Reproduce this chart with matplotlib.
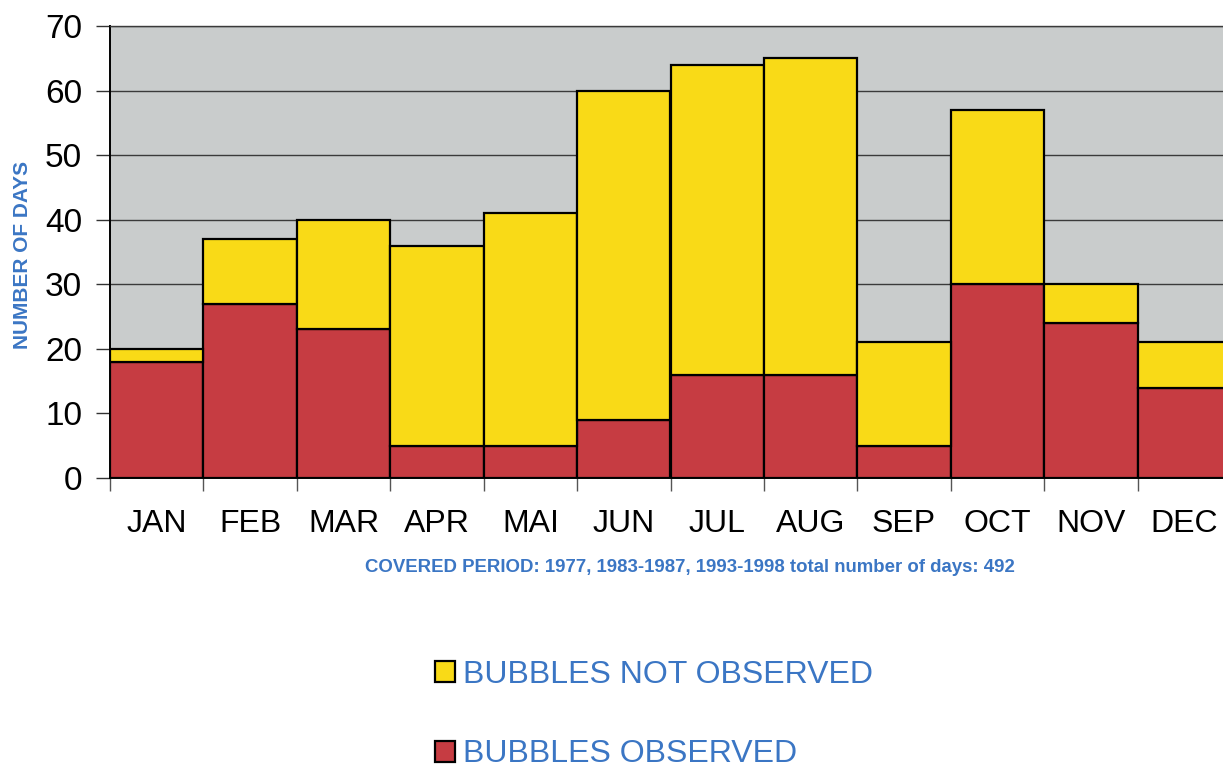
import numpy as np
import matplotlib
matplotlib.use("Agg")
import matplotlib.pyplot as plt

# monthly counts of days
months = ["JAN", "FEB", "MAR", "APR", "MAI", "JUN", "JUL", "AUG", "SEP", "OCT", "NOV", "DEC"]
observed = [18, 27, 23, 5, 5, 9, 16, 16, 5, 30, 24, 14]
totals = [20, 37, 40, 36, 41, 60, 64, 65, 21, 57, 30, 21]
not_observed = [t - o for t, o in zip(totals, observed)]
y_ticks = [0, 10, 20, 30, 40, 50, 60, 70]

plt.rcParams['font.family'] = ['Liberation Sans', 'DejaVu Sans']

RED = '#c63c42'
YELLOW = '#f9da17'
GRAY = '#c9cccc'
BLUE = '#3b76c4'

fig = plt.figure(figsize=(12.23, 7.69), dpi=100)
ax = fig.add_axes([110 / 1223, 1 - 478 / 769, 1121 / 1223, 452 / 769])
ax.set_facecolor(GRAY)

x = np.arange(len(months))
b_obs = ax.bar(x, observed, width=1.0, color=RED, edgecolor='black', linewidth=1.6, zorder=3)
b_not = ax.bar(x, not_observed, bottom=observed, width=1.0, color=YELLOW,
               edgecolor='black', linewidth=1.6, zorder=3)

ax.set_xlim(-0.5, len(months) - 0.5)
ax.set_ylim(0, 70)

# y axis
ax.set_yticks(y_ticks)
ax.set_yticklabels([str(v) for v in y_ticks], fontsize=24)
ax.tick_params(axis='y', direction='out', length=10, width=1, color='#333333', pad=10)
ax.yaxis.grid(True, color='#3a3a3a', linewidth=1.0, zorder=1)
ax.set_axisbelow(True)

# x axis: ticks on bar boundaries, labels at centres
ax.set_xticks(np.arange(len(months) + 1) - 0.5)
ax.set_xticklabels([])
ax.tick_params(axis='x', which='major', direction='out', length=9, width=1, color='#555555')
ax.set_xticks(x, minor=True)
ax.set_xticklabels(months, minor=True, fontsize=23)
ax.tick_params(axis='x', which='minor', length=0, pad=22)

for side in ['left', 'bottom']:
    ax.spines[side].set_color('black')
    ax.spines[side].set_linewidth(1.4)
ax.spines['top'].set_color('#3a3a3a')
ax.spines['top'].set_linewidth(1.0)
ax.spines['right'].set_visible(False)

fig.text(22 / 1223, 1 - 255 / 769, "NUMBER OF DAYS", rotation=90, color=BLUE,
         fontsize=15, fontweight='bold', ha='center', va='center')

fig.text(690 / 1223, 1 - 568 / 769,
         "COVERED PERIOD: 1977, 1983-1987, 1993-1998 total number of days: 492",
         color=BLUE, fontsize=13.4, fontweight='bold', ha='center', va='center')

fig.legend([b_not, b_obs], ["BUBBLES NOT OBSERVED", "BUBBLES OBSERVED"],
           loc='upper left', bbox_to_anchor=(419 / 1223, 1 - 644 / 769),
           frameon=False, fontsize=23, labelcolor=BLUE, labelspacing=1.55,
           handlelength=0.62, handleheight=0.62, handletextpad=0.25, borderpad=0)

fig.savefig("out.png", dpi=100)
